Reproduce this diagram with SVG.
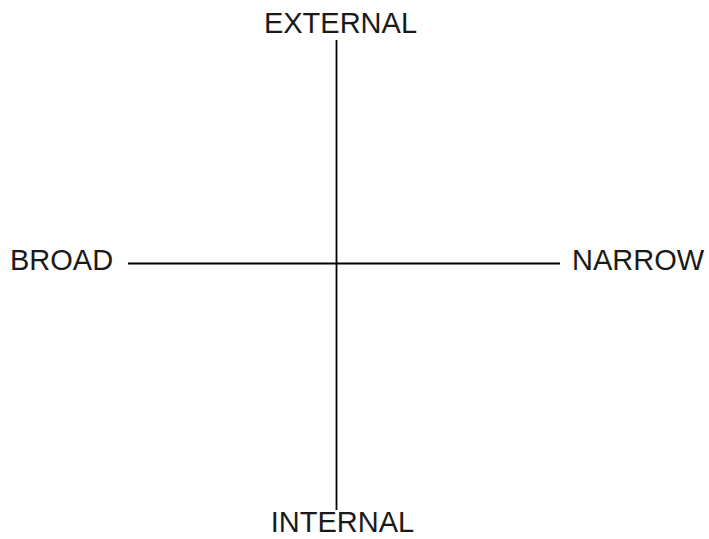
<svg xmlns="http://www.w3.org/2000/svg" width="709" height="539" viewBox="0 0 709 539">
<style>
.lbl{font-family:"Liberation Sans",Arial,sans-serif;font-size:29px;fill:#1a1a1a}
.ax{stroke:#000;stroke-width:1.8;fill:none}
</style>
<rect width="709" height="539" fill="#fff"/>
<g id="connectors">
<line class="ax" x1="336.5" y1="40" x2="336.5" y2="510"/>
<line class="ax" x1="128" y1="263.5" x2="560" y2="263.5"/>
</g>
<g id="external"><text class="lbl" x="340.5" y="33" text-anchor="middle">EXTERNAL</text></g>
<g id="internal"><text class="lbl" x="342.5" y="532" text-anchor="middle">INTERNAL</text></g>
<g id="broad"><text class="lbl" x="10" y="270">BROAD</text></g>
<g id="narrow"><text class="lbl" x="572" y="270">NARROW</text></g>
</svg>
